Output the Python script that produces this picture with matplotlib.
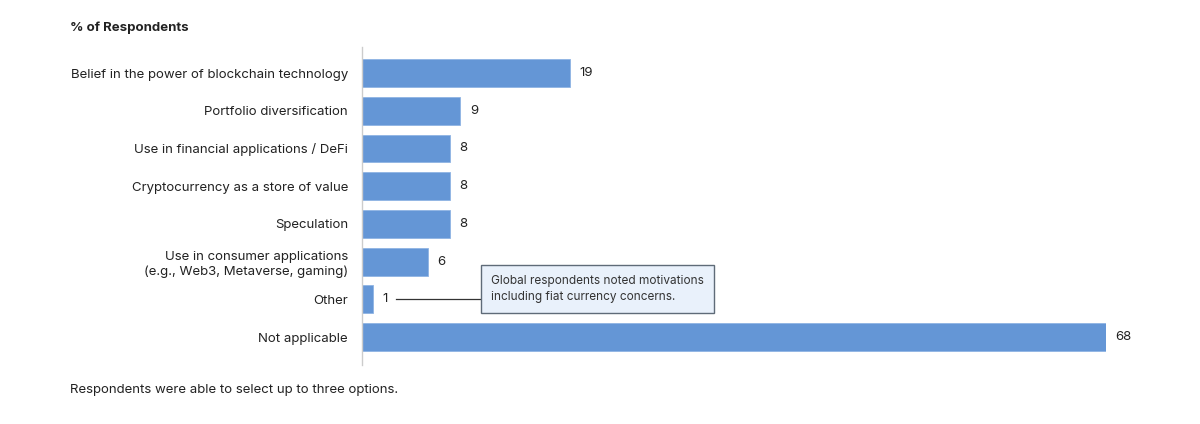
import matplotlib.pyplot as plt

# Datos del gráfico
categorias = [
    "Belief in the power of blockchain technology",
    "Portfolio diversification",
    "Use in financial applications / DeFi",
    "Cryptocurrency as a store of value",
    "Speculation",
    "Use in consumer applications\n(e.g., Web3, Metaverse, gaming)",
    "Other",
    "Not applicable",
]
valores = [19, 9, 8, 8, 8, 6, 1, 68]

plt.rcParams['font.family'] = ['Inter', 'DejaVu Sans']

color_barra = '#6496d6'
color_texto = '#222222'

fig = plt.figure(figsize=(12, 4.24), dpi=100)
ax = fig.add_axes([362 / 1200, 1 - 365 / 424, 744 / 1200, 318 / 424])

pos = list(range(len(categorias)))
ax.barh(pos, valores, height=0.74, color=color_barra, edgecolor='#8fb4e3', linewidth=0.6)

for y, v in zip(pos, valores):
    ax.text(v + 0.85, y, str(v), va='center', ha='left', fontsize=9.5, color=color_texto)

ax.set_xlim(0, 68)
ax.set_ylim(7.74, -0.69)
ax.set_yticks(pos)
ax.set_yticklabels(categorias, fontsize=9.5, color=color_texto, linespacing=1.25)
ax.tick_params(axis='y', length=0, pad=10)
ax.set_xticks([])
for lado in ['top', 'right', 'bottom']:
    ax.spines[lado].set_visible(False)
ax.spines['left'].set_color('#cccccc')
ax.spines['left'].set_linewidth(1)

# Nota sobre "Other"
ax.plot([3.1, 10.9], [6, 6], color='#333333', lw=0.9, clip_on=False)
ax.text(11.8, 5.73,
        "Global respondents noted motivations\nincluding fiat currency concerns.",
        fontsize=8.5, color='#333333', va='center', ha='left', linespacing=1.4,
        bbox=dict(boxstyle='square,pad=0.85', fc='#e9f1fb', ec='#5f6b78', lw=1))

fig.text(70 / 1200, 1 - 28 / 424, "% of Respondents", fontsize=9.5, fontweight='bold',
         color=color_texto, va='center', ha='left')
fig.text(70 / 1200, 1 - 390 / 424, "Respondents were able to select up to three options.",
         fontsize=9.5, color=color_texto, va='center', ha='left')

fig.savefig('out.png', dpi=100)
